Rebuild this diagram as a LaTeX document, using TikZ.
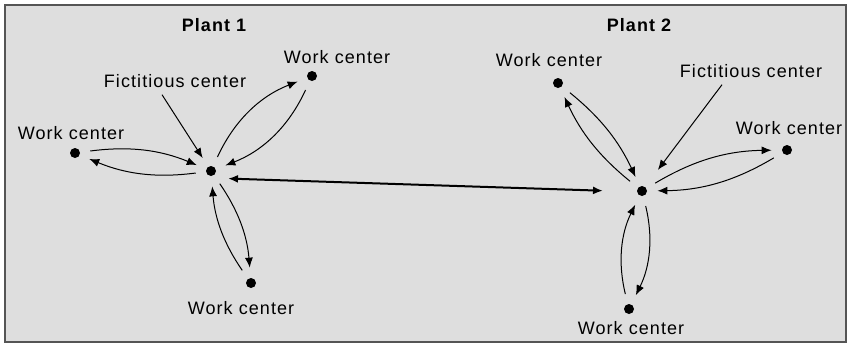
\documentclass[tikz,border=0pt]{standalone}
\usepackage{fontspec}
\setmainfont{Liberation Sans}[LetterSpace=6.0]
\usetikzlibrary{arrows.meta,positioning}
\definecolor{panel}{HTML}{DEDEDE}
\definecolor{rim}{HTML}{555555}
\tikzset{
	frame/.style = {draw=rim, fill=panel, line width=0.7pt},
	my dot/.style = {circle, fill, inner sep=0pt, minimum size=5pt},
	my label/.style = {font=\fontsize{9}{11}\selectfont},
	plant/.style = {font=\fontsize{9}{11}\selectfont\bfseries},
	my edge/.style = {-{Latex[length=5pt,width=4pt]}, line width=0.5pt, shorten >=5pt, shorten <=5pt}, % arrows between centers
	pointer/.style = {-{Latex[length=5pt,width=4pt]}, line width=0.5pt},
	my link/.style = {{Latex[length=5pt,width=4pt]}-{Latex[length=5pt,width=4pt]}, line width=1pt}
}
\begin{document}
\begin{tikzpicture}[x=0.5pt,y=-0.5pt]
	\useasboundingbox (0,0) rectangle (852,344);
	\draw[frame] (5,5) rectangle (846,342);
	% plant 1
	\node[plant] (p1) at (214,25) {Plant 1};
	\node[my dot] (c1) at (211,171) {};
	\node[my dot] (w11) at (75,153) {};
	\node[my dot] (w12) at (312,76) {};
	\node[my dot] (w13) at (251,283) {};
	\node[my label] (f1) at (175,81) {Fictitious center};
	\node[my label] (l11) at (71,133) {Work center};
	\node[my label] (l12) at (337,57) {Work center};
	\node[my label] (l13) at (241,308) {Work center};
	\draw[my edge] (w11) to[bend left=15] (c1);
	\draw[my edge] (c1) to[bend left=15] (w11);
	\draw[my edge] (w12) to[bend left=22] (c1);
	\draw[my edge] (c1) to[bend left=22] (w12);
	\draw[my edge] (w13) to[bend left=15] (c1);
	\draw[my edge] (c1) to[bend left=15] (w13);
	\draw[pointer, shorten >=5pt] ([xshift=-6.5pt]f1.south) -- (c1);
	% plant 2
	\node[plant] (p2) at (639,25) {Plant 2};
	\node[my dot] (c2) at (642,191) {};
	\node[my dot] (w21) at (558,83) {};
	\node[my dot] (w22) at (787,150) {};
	\node[my dot] (w23) at (629,309) {};
	\node[my label] (f2) at (751,71) {Fictitious center};
	\node[my label] (l21) at (549,60) {Work center};
	\node[my label] (l22) at (789,128) {Work center};
	\node[my label] (l23) at (631,328) {Work center};
	\draw[my edge] (w21) to[bend left=13] (c2);
	\draw[my edge] (c2) to[bend left=13] (w21);
	\draw[my edge] (w22) to[bend left=15] (c2);
	\draw[my edge] (c2) to[bend left=15] (w22);
	\draw[my edge] (w23) to[bend left=20] (c2);
	\draw[my edge] (c2) to[bend left=20] (w23);
	\draw[pointer, shorten >=10.5pt] ([xshift=-14.5pt]f2.south) -- (c2);
	% link between plants
	\draw[my link, shorten <=8.5pt, shorten >=19.5pt] ([yshift=-3.5pt]c1.center) -- ([yshift=-0.5pt]c2.center);
\end{tikzpicture}
\end{document}
